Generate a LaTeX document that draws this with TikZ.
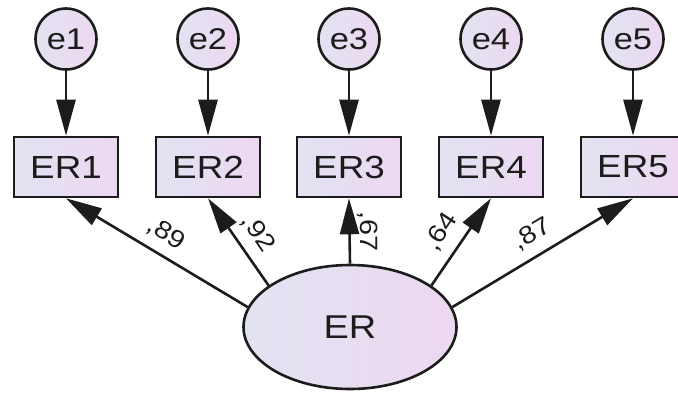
\documentclass[tikz,border=0pt]{standalone}
\usepackage{fontspec}
\setmainfont[FakeStretch=1.15]{Liberation Sans}
\usetikzlibrary{arrows.meta,shapes.geometric}
\definecolor{lavL}{HTML}{E1E3F1}
\definecolor{lavR}{HTML}{EDD8F1}
\definecolor{ink}{HTML}{1C1C1C}
\begin{document}
\begin{tikzpicture}[x=1pt,y=-1pt,
  grad/.style={left color=lavL, right color=lavR},
  errvar/.style={circle, draw=ink, line width=2.6pt, minimum size=61pt, inner sep=0pt, grad,
    text=ink, font=\fontsize{30}{30}\selectfont},
  obsvar/.style={rectangle, draw=ink, line width=2.6pt, minimum width=104pt, minimum height=60pt,
    inner sep=0pt, grad, text=ink, font=\fontsize{32}{32}\selectfont},
  latvar/.style={ellipse, draw=ink, line width=2.6pt, minimum width=213pt, minimum height=124pt,
    inner sep=0pt, grad, text=ink, font=\fontsize{33}{33}\selectfont},
  regarrow/.style={draw=ink, line width=2.6pt, -{Triangle[length=36pt,width=19pt]}},
  loadlab/.style={inner sep=0pt, text=ink, font=\fontsize{25}{25}\selectfont}
]
\useasboundingbox (0,0) rectangle (678,392);

% error terms and indicators
\foreach \i/\x in {1/66,2/208,3/349,4/491,5/633}{
  \node[errvar] (e\i) at (\x,39) {e\i};
  \node[obsvar] (ER\i) at (\x,167) {ER\i};
  \draw[regarrow] (e\i.south) -- (ER\i.north);
}

% latent factor
\node[latvar] (ER) at (350,327) {ER};

% factor loadings
\draw[regarrow] (ER.169) -- (ER1.south);
\draw[regarrow] (ER.153) -- (ER2.south);
\draw[regarrow] (ER.north) -- (ER3.south);
\draw[regarrow] (ER.27) -- (ER4.south);
\draw[regarrow] (ER.11) -- (ER5.south);

% loading values
\node[loadlab, rotate=-31] (l1) at (166,234) {,89};
\node[loadlab, rotate=-56] (l2) at (258,233) {,92};
\node[loadlab, rotate=-90] (l3) at (368,231) {,67};
\node[loadlab, rotate=57]  (l4) at (441,232) {,64};
\node[loadlab, rotate=31]  (l5) at (532,234) {,87};
\end{tikzpicture}
\end{document}
